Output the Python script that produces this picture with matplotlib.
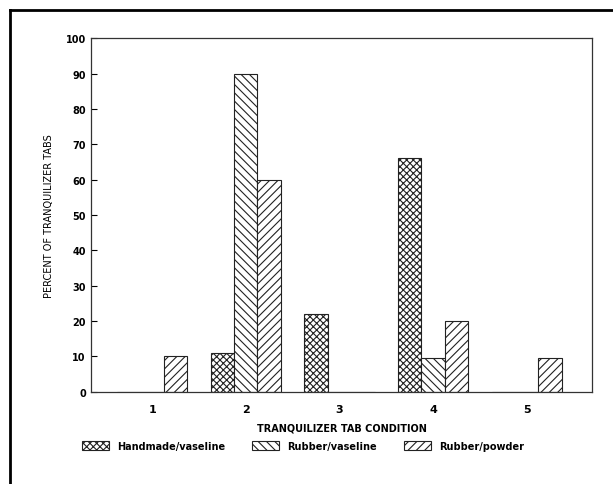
import numpy as np
from matplotlib import pyplot as plt
from matplotlib.lines import Line2D

conditions = [1, 2, 3, 4, 5]
handmade_vaseline = [0, 11, 22, 66, 0]
rubber_vaseline = [0, 90, 0, 9.5, 0]
rubber_powder = [10, 60, 0, 20, 9.5]
series_names = ['Handmade/vaseline', 'Rubber/vaseline', 'Rubber/powder']

plt.rcParams['hatch.linewidth'] = 0.8
fig = plt.figure(figsize=(6.13, 4.85), dpi=100)
ax = fig.add_axes([0.149, 0.19, 0.817, 0.729])

x = np.array(conditions)
w = 0.25
b1 = ax.bar(x - w, handmade_vaseline, w, color='white', edgecolor='#222222',
            hatch='xxxxx', linewidth=0.8, label=series_names[0])
b2 = ax.bar(x, rubber_vaseline, w, color='white', edgecolor='#222222',
            hatch='\\\\\\\\', linewidth=0.8, label=series_names[1])
b3 = ax.bar(x + w, rubber_powder, w, color='white', edgecolor='#222222',
            hatch='////', linewidth=0.8, label=series_names[2])

ax.set_xlim(0.35, 5.7)
ax.set_ylim(0, 100)
ax.set_yticks(range(0, 101, 10))
ax.set_xticks(conditions)
ax.tick_params(axis='y', direction='in', length=4, labelsize=7, pad=4)
ax.tick_params(axis='x', length=0, labelsize=8, pad=9)
for lab in ax.get_xticklabels() + ax.get_yticklabels():
    lab.set_fontweight('bold')
for s in ax.spines.values():
    s.set_linewidth(0.9)
    s.set_color('#333333')

ax.set_ylabel('PERCENT OF TRANQUILIZER TABS', fontsize=7, labelpad=8)
ax.set_xlabel('TRANQUILIZER TAB CONDITION', fontsize=7, fontweight='bold', labelpad=6)

leg = fig.legend(handles=[b1, b2, b3], loc='center', bbox_to_anchor=(0.494, 0.078),
                 ncol=3, frameon=False, fontsize=7, columnspacing=2.8,
                 handlelength=2.8, handleheight=1.0, handletextpad=0.8)
for t in leg.get_texts():
    t.set_fontweight('bold')

# border lines at top and left of the scan
fig.add_artist(Line2D([10 / 613, 1.0], [1 - 11 / 485, 1 - 11 / 485], color='black', linewidth=2))
fig.add_artist(Line2D([10 / 613, 10 / 613], [0, 1 - 11 / 485], color='black', linewidth=2))

fig.savefig('out.png', dpi=100)
